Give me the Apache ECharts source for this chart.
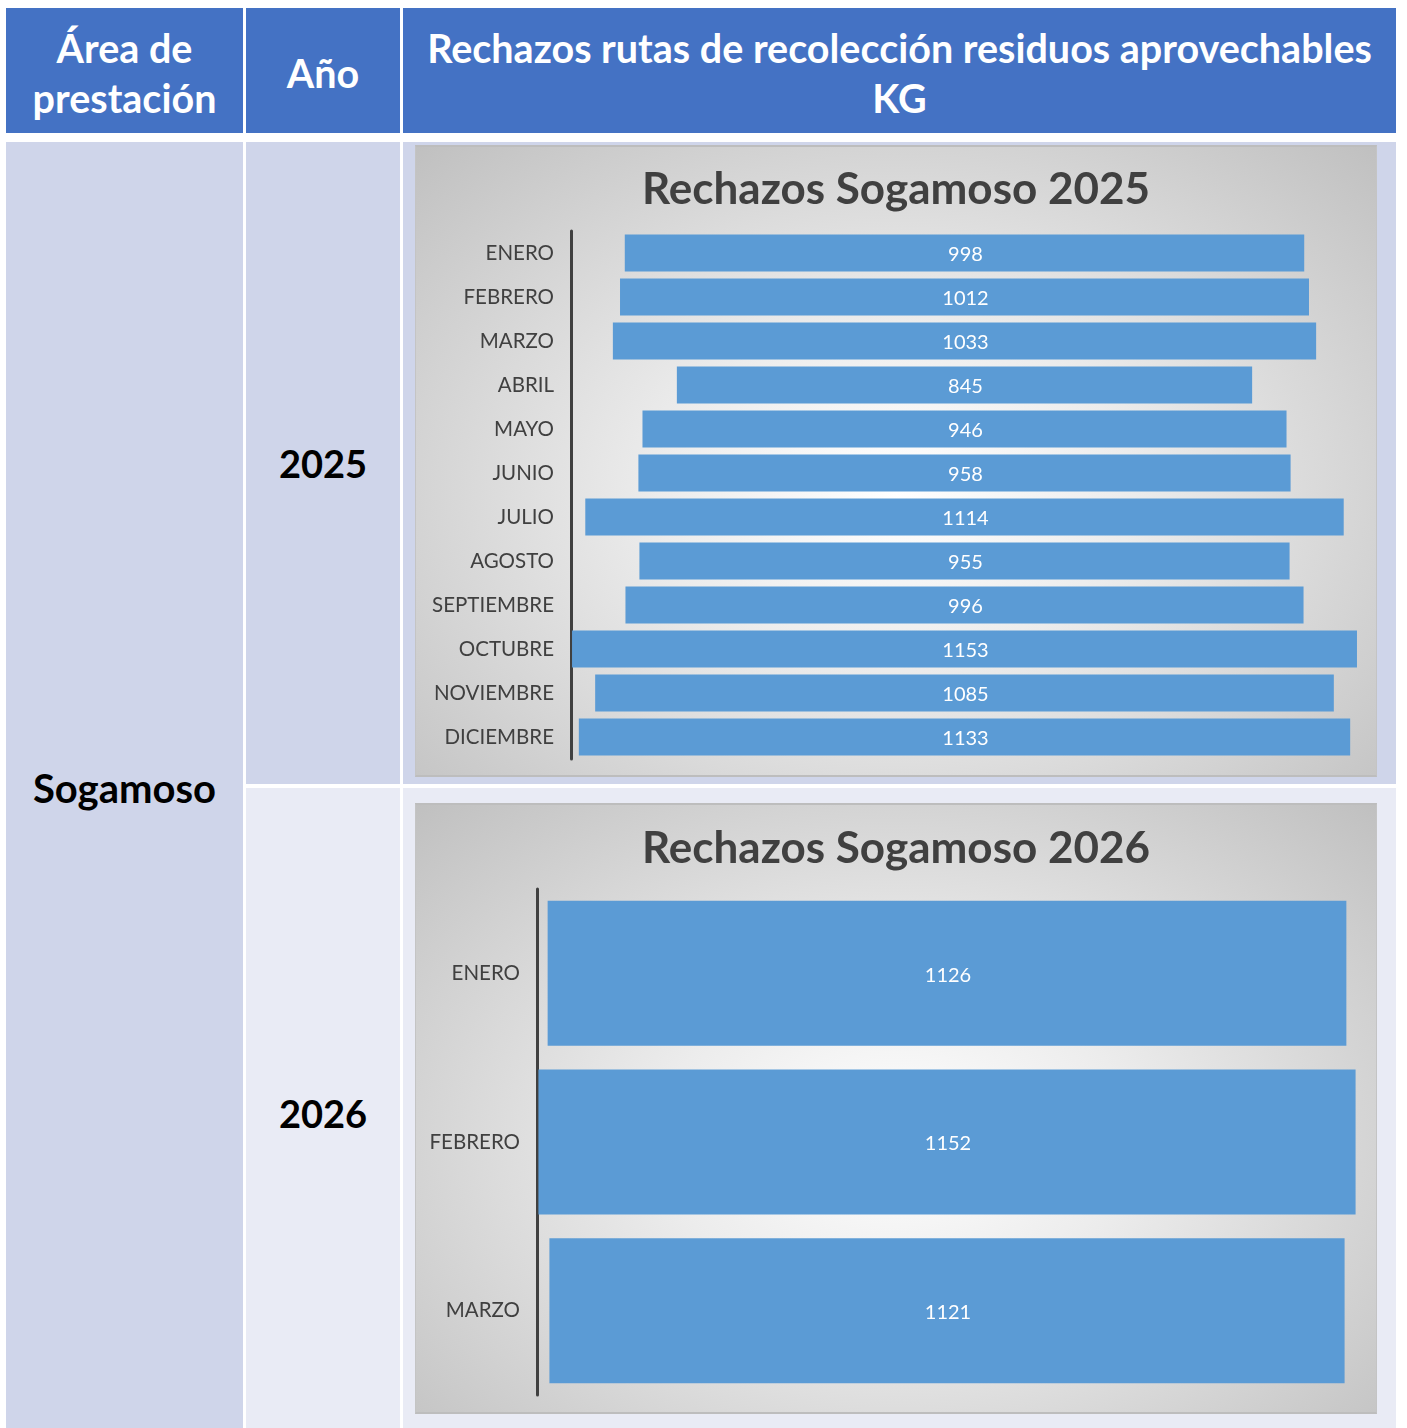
<!DOCTYPE html>
<html>
<head>
<meta charset="utf-8">
<script src="https://cdn.jsdelivr.net/npm/echarts@6/dist/echarts.min.js"></script>
<style>
  html, body { margin: 0; padding: 0; background: #ffffff; }
  body { width: 1407px; height: 1428px; position: relative; overflow: hidden; font-family: Lato, "Noto Sans", sans-serif; }
  .cell { position: absolute; display: flex; align-items: center; justify-content: center; text-align: center; box-sizing: border-box; }
  .head { background: #4472C4; color: #ffffff; font-weight: bold; font-size: 39.5px; line-height: 50px; padding-top: 4px; }
  .dark { background: #CFD5EA; }
  .light { background: #E9EBF5; }
  .big { color: #000000; font-weight: bold; font-size: 38px; }
  .panel { position: absolute; box-sizing: border-box; border: 1px solid #C4C4C4; border-top: 2px solid #BDBDBD; border-bottom: 2px solid #BDBDBD;
           background: radial-gradient(ellipse farthest-corner at 50% 55%, #FFFFFF 0%, #ECECEC 35%, #C0C0C0 100%); }
</style>
</head>
<body>
<div class="cell head" style="left:6px;top:8px;width:237px;height:125px;">Área de<br>prestación</div>
<div class="cell head" style="left:246px;top:8px;width:154px;height:125px;">Año</div>
<div class="cell head" style="left:403px;top:8px;width:993px;height:125px;">Rechazos rutas de recolección residuos aprovechables<br>KG</div>

<div class="cell dark big" style="left:6px;top:142px;width:237px;height:1286px;font-size:40px;padding-top:6px;">Sogamoso</div>
<div class="cell dark big" style="left:246px;top:142px;width:154px;height:642px;">2025</div>
<div class="cell light big" style="left:246px;top:788px;width:154px;height:640px;padding-top:10px;">2026</div>
<div class="cell dark" style="left:403px;top:142px;width:993px;height:642px;"></div>
<div class="cell light" style="left:403px;top:788px;width:993px;height:640px;"></div>

<div id="c1" class="panel" style="left:415px;top:145px;width:962px;height:632px;"></div>
<div id="c2" class="panel" style="left:415px;top:803px;width:962px;height:611px;"></div>

<script>
const months2025 = ['ENERO','FEBRERO','MARZO','ABRIL','MAYO','JUNIO','JULIO','AGOSTO','SEPTIEMBRE','OCTUBRE','NOVIEMBRE','DICIEMBRE'];
const values2025 = [998, 1012, 1033, 845, 946, 958, 1114, 955, 996, 1153, 1085, 1133];
const months2026 = ['ENERO','FEBRERO','MARZO'];
const values2026 = [1126, 1152, 1121];
const axisMax = 1156;

function makeOption(title, cats, vals, grid, gap, titleTop) {
  const offsets = vals.map(v => (axisMax - v) / 2);
  return {
    backgroundColor: 'transparent',
    animation: false,
    title: {
      text: title, left: 'center', top: titleTop,
      textStyle: { fontFamily: 'Lato', fontWeight: 'bold', fontSize: 44, color: '#404040' }
    },
    grid: grid,
    xAxis: { type: 'value', min: 0, max: axisMax, show: false },
    yAxis: {
      type: 'category', data: cats, inverse: true,
      axisLine: { show: true, lineStyle: { color: '#404040', width: 3 } },
      axisTick: { show: false },
      axisLabel: { color: '#404040', fontSize: 20.5, fontFamily: 'Lato', margin: 17, padding: [4, 0, 0, 0] }
    },
    series: [
      { type: 'bar', stack: 's', data: offsets, silent: true, barCategoryGap: gap,
        itemStyle: { color: 'rgba(0,0,0,0)' } },
      { type: 'bar', stack: 's', data: vals, barCategoryGap: gap,
        itemStyle: { color: '#5B9BD5' },
        label: { show: true, position: 'inside', offset: [1, 2], color: '#ffffff', fontSize: 20, fontFamily: 'Lato' } }
    ]
  };
}

const c1 = echarts.init(document.getElementById('c1'));
c1.setOption(makeOption('Rechazos Sogamoso 2025', months2025, values2025,
  { left: 155, top: 84, width: 787, height: 528 }, '16%', 16));
const c2 = echarts.init(document.getElementById('c2'));
c2.setOption(makeOption('Rechazos Sogamoso 2026', months2026, values2026,
  { left: 121, top: 84, width: 820, height: 506 }, '14%', 17));
</script>
</body>
</html>
